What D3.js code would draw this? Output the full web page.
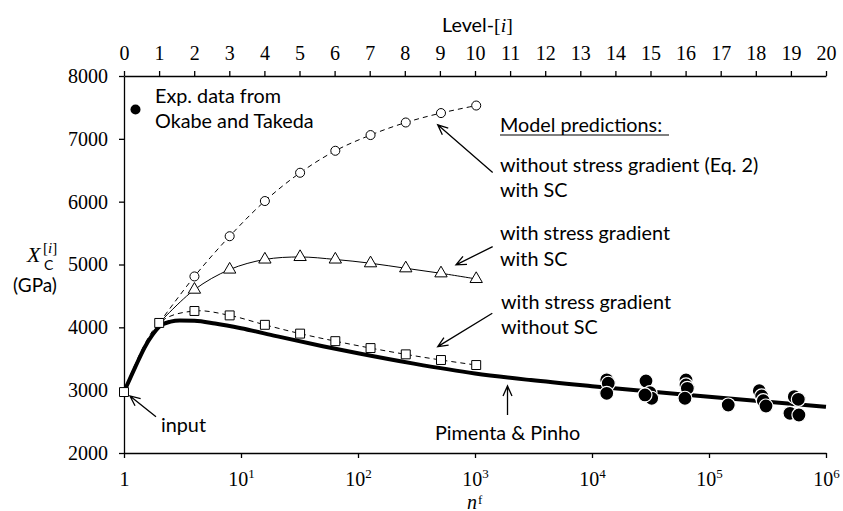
<!DOCTYPE html>
<html>
<head>
<meta charset="utf-8">
<script src="https://cdn.jsdelivr.net/npm/d3@7"></script>
<style>
body { margin: 0; background: #fff; }
</style>
</head>
<body>
<div id="chart"></div>
<script>
// level i  ->  n = 2^i
const levels = d3.range(0, 11)
const noGradientSC = [2970, 4070, 4810, 5450, 6010, 6460, 6810, 7060, 7260, 7410, 7530]
const gradientSC = [2970, 4070, 4600, 4920, 5080, 5120, 5080, 5020, 4940, 4860, 4770]
const gradientNoSC = [2970, 4070, 4260, 4190, 4040, 3900, 3780, 3670, 3570, 3480, 3400]

// Pimenta & Pinho curve
const pimentaN = [1, 1.25, 1.5, 1.75, 2, 2.5, 3, 4, 6, 10, 20, 50, 100, 300, 1000, 3000, 1e4, 1e5, 1e6]
const pimentaX = [2970, 3370, 3680, 3880, 4010, 4090, 4110, 4105, 4060, 3985, 3860, 3700, 3587, 3422, 3265, 3160, 3063, 2896, 2736]

// Okabe and Takeda experiments
const expN = [13360, 13770, 13360, 28930, 31330, 32360, 28370, 63600, 63600, 65300, 62300, 146000,
    269000, 282000, 291000, 307000, 536000, 580000, 492000, 587000]
const expX = [3165, 3110, 2950, 3146, 2960, 2871, 2924, 3162, 3083, 3030, 2871, 2764,
    2992, 2908, 2833, 2748, 2897, 2855, 2632, 2605]

const bottomTicks = [1, 10, 100, 1000, 1e4, 1e5, 1e6]
const yTicks = [2000, 3000, 4000, 5000, 6000, 7000, 8000]

const width = 843
const height = 511
const serif = "Liberation Serif"
const sans = "Lato"

const x = d3.scaleLog().domain([1, 1e6]).range([124, 826])
const xLevel = d3.scaleLinear().domain([0, 20]).range([124, 826])
const y = d3.scaleLinear().domain([2000, 8000]).range([453, 76])

const svg = d3.select("#chart").append("svg")
    .attr("width", width)
    .attr("height", height)

// axes
const gx = svg.append("g")
    .attr("transform", `translate(0,${y(2000)})`)
    .call(d3.axisBottom(x).tickValues(bottomTicks).tickSize(5).tickSizeOuter(0).tickFormat(""))
const gTop = svg.append("g")
    .attr("transform", `translate(0,${y(8000)})`)
    .call(d3.axisTop(xLevel).ticks(20).tickSize(5).tickSizeOuter(0))
const gy = svg.append("g")
    .attr("transform", `translate(${x(1)},0)`)
    .call(d3.axisLeft(y).tickValues(yTicks).tickSize(5).tickSizeOuter(0).tickFormat(d3.format("d")))

for (const g of [gx, gTop, gy]) {
    g.selectAll("path, line").attr("stroke", "#000").attr("stroke-width", 1.3)
    g.selectAll("text").attr("font-family", serif).attr("font-size", 20).attr("fill", "#000")
}
gTop.selectAll("text").attr("dy", 0).attr("y", -16)
gy.selectAll("text").attr("x", -16)

gx.selectAll(".tick").each(function (d) {
    const t = d3.select(this).append("text")
        .attr("y", 33)
        .attr("text-anchor", "middle")
        .attr("font-family", serif)
        .attr("font-size", 20)
        .attr("fill", "#000")
    if (d === 1) {
        t.text("1")
    } else {
        t.append("tspan").text("10")
        t.append("tspan").attr("dy", -8).attr("font-size", 13).text(Math.round(Math.log10(d)))
    }
})

// Pimenta & Pinho
const pimenta = pimentaN.map((n, i) => [n, pimentaX[i]])
svg.append("path")
    .datum(pimenta)
    .attr("fill", "none")
    .attr("stroke", "#000")
    .attr("stroke-width", 4)
    .attr("d", d3.line().x(d => x(d[0])).y(d => y(d[1])).curve(d3.curveMonotoneX))

// model predictions
const series = [
    { values: noGradientSC, from: 1, dash: "5,4", shape: "circle" },
    { values: gradientSC, from: 1, dash: null, shape: "triangle" },
    { values: gradientNoSC, from: 0, dash: "5,4", shape: "square" },
]
const lvlLine = d3.line()
    .x(d => x(Math.pow(2, d[0])))
    .y(d => y(d[1]))
    .curve(d3.curveCatmullRom)

const symbols = {
    circle: d3.symbol().type(d3.symbolCircle).size(64),
    triangle: d3.symbol().type(d3.symbolTriangle).size(66),
    square: d3.symbol().type(d3.symbolSquare).size(80),
}

series.forEach(s => {
    const pts = levels.map((l, i) => [l, s.values[i]]).filter(d => d[0] >= s.from)
    svg.append("path")
        .datum(pts)
        .attr("fill", "none")
        .attr("stroke", "#000")
        .attr("stroke-width", 1)
        .attr("stroke-dasharray", s.dash)
        .attr("d", lvlLine)
})
series.forEach(s => {
    const pts = levels.map((l, i) => [l, s.values[i]])
        .filter(d => s.shape === "square" ? true : d[0] >= 2)
    svg.append("g").selectAll("path")
        .data(pts)
        .join("path")
        .attr("transform", d => `translate(${x(Math.pow(2, d[0]))},${y(d[1])})`)
        .attr("d", symbols[s.shape]())
        .attr("fill", "#fff")
        .attr("stroke", "#000")
        .attr("stroke-width", 1)
})

// experimental data
svg.append("g").selectAll("circle")
    .data(expN.map((n, i) => [n, expX[i]]))
    .join("circle")
    .attr("cx", d => x(d[0]))
    .attr("cy", d => y(d[1]))
    .attr("r", 7)
    .attr("fill", "#000")
    .attr("stroke", "#fff")
    .attr("stroke-width", 1.2)

// annotation arrows: [tail n, tail X, tip n, tip X]
const arrows = [
    [1416, 6463, 480, 7223],
    [1416, 5285, 688, 4994],
    [1406, 4224, 480, 3693],
    [1896, 2605, 1896, 3067],
    [1.877, 2578, 1.125, 2908],
]
arrows.forEach(([n0, v0, n1, v1]) => {
    const x0 = x(n0), y0 = y(v0), x1 = x(n1), y1 = y(v1)
    const a = Math.atan2(y0 - y1, x0 - x1)
    const len = 11, spread = 0.42
    const p = d3.path()
    p.moveTo(x0, y0); p.lineTo(x1, y1)
    p.moveTo(x1 + len * Math.cos(a + spread), y1 + len * Math.sin(a + spread))
    p.lineTo(x1, y1)
    p.lineTo(x1 + len * Math.cos(a - spread), y1 + len * Math.sin(a - spread))
    svg.append("path").attr("d", p.toString())
        .attr("fill", "none").attr("stroke", "#000").attr("stroke-width", 1.3)
})

// texts
const label = (tx, ty, str, opts = {}) => svg.append("text")
    .attr("x", tx).attr("y", ty)
    .attr("font-family", opts.family || sans)
    .attr("font-size", opts.size || 19.8)
    .attr("font-style", opts.style || null)
    .attr("text-anchor", opts.anchor || "start")
    .attr("fill", "#000")
    .text(str)

svg.append("circle").attr("cx", 135.5).attr("cy", 109.5).attr("r", 5).attr("fill", "#000")
label(155, 103, "Exp. data from")
label(155, 128, "Okabe and Takeda")

label(500, 131.5, "Model predictions:")
svg.append("line").attr("x1", 500).attr("x2", 669).attr("y1", 135).attr("y2", 135)
    .attr("stroke", "#000").attr("stroke-width", 1.2)
label(500, 171.5, "without stress gradient (Eq. 2)")
label(500, 197, "with SC")
label(500, 240, "with stress gradient")
label(500, 265.5, "with SC")
label(501, 309, "with stress gradient")
label(501, 334, "without SC")

label(161, 432, "input")
label(435, 440, "Pimenta & Pinho")

// axis titles
const levelTitle = label(442, 32, "Level-")
levelTitle.append("tspan").attr("font-family", serif).text("[")
levelTitle.append("tspan").attr("font-family", serif).attr("font-style", "italic").text("i")
levelTitle.append("tspan").attr("font-family", serif).text("]")

label(27, 262, "X", { family: serif, style: "italic", size: 22 })
const supText = label(43, 253, "[", { family: serif, size: 15 })
supText.append("tspan").attr("font-style", "italic").text("i")
supText.append("tspan").text("]")
label(44, 270, "C", { size: 14 })
label(35, 292, "(GPa)", { anchor: "middle", size: 19 })

label(467, 509, "n", { family: serif, style: "italic", size: 20 })
label(478, 504, "f", { family: serif, size: 13 })
</script>
</body>
</html>
